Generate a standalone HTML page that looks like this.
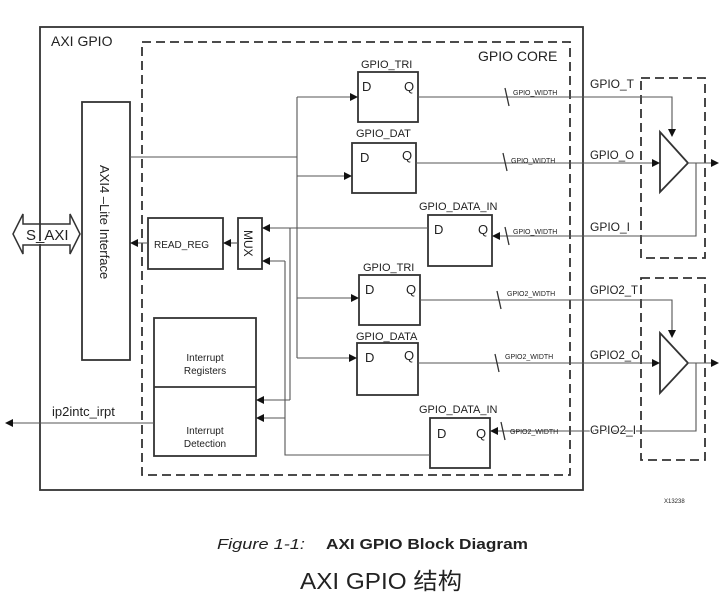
<!DOCTYPE html>
<html><head><meta charset="utf-8"><style>
html,body{margin:0;padding:0;background:#fff;}
svg{display:block;}
text{font-family:"Liberation Sans",Arial,sans-serif;fill:#222;}
</style></head><body>
<svg width="723" height="597" viewBox="0 0 723 597" xmlns="http://www.w3.org/2000/svg">
<defs>
<marker id="a" markerWidth="8" markerHeight="8" refX="7" refY="4" orient="auto" markerUnits="userSpaceOnUse"><path d="M0,0 L8,4 L0,8 Z" fill="#111"/></marker>
</defs>
<g fill="none" stroke="#333" stroke-width="1.8">
<rect x="40" y="27" width="543" height="463"/>
<rect x="142" y="42" width="428" height="433" stroke-dasharray="9,5"/>
<rect x="641" y="78" width="64" height="180" stroke-dasharray="9,5"/>
<rect x="641" y="278" width="64" height="182" stroke-dasharray="9,5"/>
<rect x="82" y="102" width="48" height="258"/>
<rect x="148" y="218" width="75" height="51"/>
<rect x="238" y="218" width="24" height="51"/>
<rect x="154" y="318" width="102" height="138"/>
<line x1="154" y1="387" x2="256" y2="387"/>
<rect x="358" y="72" width="60" height="50"/>
<rect x="352" y="143" width="64" height="50"/>
<rect x="428" y="215" width="64" height="51"/>
<rect x="359" y="275" width="61" height="50"/>
<rect x="357" y="343" width="61" height="52"/>
<rect x="430" y="418" width="60" height="50"/>
<path d="M660,132 L688,163 L660,192 Z"/>
<path d="M660,333 L688,363 L660,393 Z"/>
</g>
<g fill="none" stroke="#555" stroke-width="1.1">
<path d="M130,157 H297 M297,97 V358"/>
<line x1="297" y1="97" x2="357" y2="97" marker-end="url(#a)"/>
<line x1="297" y1="176" x2="351" y2="176" marker-end="url(#a)"/>
<line x1="297" y1="298" x2="358" y2="298" marker-end="url(#a)"/>
<line x1="297" y1="358" x2="356" y2="358" marker-end="url(#a)"/>
<line x1="428" y1="228" x2="263" y2="228" marker-end="url(#a)"/>
<path d="M290,228 V400"/>
<line x1="290" y1="400" x2="257" y2="400" marker-end="url(#a)"/>
<path d="M430,455 H285 V261"/>
<line x1="285" y1="261" x2="263" y2="261" marker-end="url(#a)"/>
<line x1="285" y1="418" x2="257" y2="418" marker-end="url(#a)"/>
<line x1="238" y1="243" x2="224" y2="243" marker-end="url(#a)"/>
<line x1="148" y1="243" x2="131" y2="243" marker-end="url(#a)"/>
<line x1="154" y1="423" x2="6" y2="423" marker-end="url(#a)"/>
<path d="M418,97 H672 V132"/><line x1="672" y1="120" x2="672" y2="136" marker-end="url(#a)"/>
<line x1="416" y1="163" x2="659" y2="163" marker-end="url(#a)"/>
<line x1="688" y1="163" x2="718" y2="163" marker-end="url(#a)"/>
<path d="M696,163 V236 H500"/><line x1="500" y1="236" x2="493" y2="236" marker-end="url(#a)"/>
<path d="M420,300 H672 V333"/><line x1="672" y1="320" x2="672" y2="337" marker-end="url(#a)"/>
<line x1="418" y1="363" x2="659" y2="363" marker-end="url(#a)"/>
<line x1="688" y1="363" x2="718" y2="363" marker-end="url(#a)"/>
<path d="M696,363 V431 H498"/><line x1="498" y1="431" x2="491" y2="431" marker-end="url(#a)"/>
</g>
<g fill="none" stroke="#333" stroke-width="1.3">
<path d="M505,88 l4,18 M503,153 l4,18 M505,227 l4,18 M497,291 l4,18 M495,354 l4,18 M501,422 l4,18"/>
</g>
<path d="M13,234 L23,214 V224 H70 V214 L80,234 L70,254 V245 H23 V254 Z" fill="#fff" stroke="#333" stroke-width="1.5"/>
<line x1="40" y1="224" x2="40" y2="245" stroke="#333" stroke-width="1.8"/>
<text x="26" y="240" font-size="15" style="paint-order:stroke" stroke="#fff" stroke-width="2">S_AXI</text>
<text x="51" y="46" font-size="14">AXI GPIO</text>
<text x="478" y="61" font-size="14">GPIO CORE</text>
<text transform="translate(100,165) rotate(90)" font-size="13">AXI4 –Lite Interface</text>
<text x="154" y="248" font-size="10">READ_REG</text>
<text transform="translate(244,230) rotate(90)" font-size="12">MUX</text>
<text x="205" y="361" font-size="10" text-anchor="middle">Interrupt</text>
<text x="205" y="374" font-size="10" text-anchor="middle">Registers</text>
<text x="205" y="434" font-size="10" text-anchor="middle">Interrupt</text>
<text x="205" y="447" font-size="10" text-anchor="middle">Detection</text>
<text x="52" y="416" font-size="13">ip2intc_irpt</text>
<g font-size="11">
<text x="361" y="68">GPIO_TRI</text>
<text x="356" y="137">GPIO_DAT</text>
<text x="419" y="210">GPIO_DATA_IN</text>
<text x="363" y="271">GPIO_TRI</text>
<text x="356" y="340">GPIO_DATA</text>
<text x="419" y="413">GPIO_DATA_IN</text>
</g>
<g font-size="13">
<text x="362" y="91">D</text><text x="404" y="91">Q</text>
<text x="360" y="162">D</text><text x="402" y="160">Q</text>
<text x="434" y="234">D</text><text x="478" y="234">Q</text>
<text x="365" y="294">D</text><text x="406" y="294">Q</text>
<text x="365" y="362">D</text><text x="404" y="360">Q</text>
<text x="437" y="438">D</text><text x="476" y="438">Q</text>
</g>
<g font-size="7">
<text x="513" y="95">GPIO_WIDTH</text>
<text x="511" y="163">GPIO_WIDTH</text>
<text x="513" y="234">GPIO_WIDTH</text>
<text x="507" y="296">GPIO2_WIDTH</text>
<text x="505" y="359">GPIO2_WIDTH</text>
<text x="510" y="434">GPIO2_WIDTH</text>
</g>
<g font-size="12" style="paint-order:stroke" stroke="#fff" stroke-width="2">
<text x="590" y="88">GPIO_T</text>
<text x="590" y="159" textLength="44" lengthAdjust="spacingAndGlyphs">GPIO_O</text>
<text x="590" y="231">GPIO_I</text>
<text x="590" y="294" textLength="48" lengthAdjust="spacingAndGlyphs">GPIO2_T</text>
<text x="590" y="359" textLength="50" lengthAdjust="spacingAndGlyphs">GPIO2_O</text>
<text x="590" y="434" textLength="46" lengthAdjust="spacingAndGlyphs">GPIO2_I</text>
</g>
<text x="664" y="503" font-size="6">X13238</text>
<text x="217" y="549" font-size="15" font-style="italic" fill="#444" textLength="88" lengthAdjust="spacingAndGlyphs">Figure 1-1:</text>
<text x="326" y="549" font-size="15" font-weight="bold" textLength="202" lengthAdjust="spacingAndGlyphs">AXI GPIO Block Diagram</text>
<text x="300" y="589" font-size="23" textLength="162" lengthAdjust="spacingAndGlyphs" style="font-family:'Liberation Sans','Noto Sans CJK SC',sans-serif">AXI GPIO 结构</text>
</svg>
</body></html>
